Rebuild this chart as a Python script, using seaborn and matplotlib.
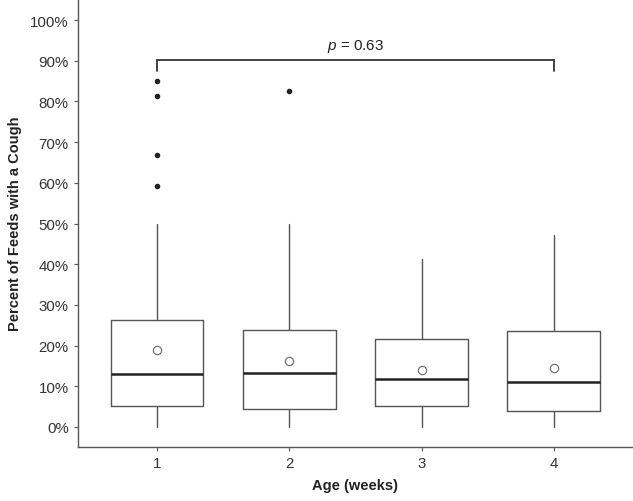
import matplotlib
matplotlib.use("Agg")
import matplotlib.pyplot as plt
import seaborn as sns
import pandas as pd

# box summary (percent of feeds with a cough)
weeks = ["1", "2", "3", "4"]
q1 = [5.2, 4.5, 5.2, 3.9]
medians = [13.0, 13.3, 11.8, 11.1]
q3 = [26.3, 23.8, 21.7, 23.5]
whisker_lo = [0.0, 0.0, 0.0, 0.0]
whisker_hi = [50.0, 50.0, 41.3, 47.2]
means = [18.9, 16.2, 13.9, 14.5]
outliers = [[85.1, 81.4, 66.8, 59.2], [82.5], [], []]
p_label = "0.63"
bracket_y = 90.1
bracket_drop = 2.7

sns.set_theme(style="ticks")
plt.rcParams['font.family'] = ['Liberation Sans', 'DejaVu Sans']
plt.rcParams['mathtext.fontset'] = 'custom'
plt.rcParams['mathtext.rm'] = 'Liberation Sans'
plt.rcParams['mathtext.it'] = 'Liberation Sans:italic'

fig = plt.figure(figsize=(6.33, 5.02), dpi=100)
ax = fig.add_axes([0.123, 0.108, 0.877, 0.892])

stats = []
for i, w in enumerate(weeks):
    stats.append(dict(label=w, q1=q1[i], med=medians[i], q3=q3[i],
                      whislo=whisker_lo[i], whishi=whisker_hi[i],
                      fliers=outliers[i], mean=means[i]))

edge = "#555555"
ax.bxp(stats, positions=range(len(weeks)), widths=0.7, showcaps=False,
       showfliers=True, showmeans=False,
       boxprops=dict(color=edge, linewidth=1.0),
       whiskerprops=dict(color=edge, linewidth=1.0),
       medianprops=dict(color="#222222", linewidth=1.8),
       flierprops=dict(marker="o", markersize=3.0, markerfacecolor="#222222",
                       markeredgecolor="#222222"))

mean_df = pd.DataFrame({"week": range(len(weeks)), "mean": means})
sns.scatterplot(data=mean_df, x="week", y="mean", ax=ax, marker="o", s=36,
                facecolor="white", edgecolor="#666666", linewidth=0.8,
                zorder=5, legend=False)

# significance bracket between week 1 and week 4
ax.plot([0, 0, len(weeks) - 1, len(weeks) - 1],
        [bracket_y - bracket_drop, bracket_y, bracket_y, bracket_y - bracket_drop],
        color="#333333", linewidth=1.3, solid_joinstyle="miter")
ax.text((len(weeks) - 1) / 2, bracket_y + 1.6, r"$p$ = " + p_label,
        ha="center", va="bottom", fontsize=11, color="#222222")

ax.set_xlim(-0.6, len(weeks) - 0.4)
ax.set_ylim(-4.9, 105.2)
ax.set_yticks(range(0, 101, 10))
ax.set_yticklabels([f"{v}%" for v in range(0, 101, 10)])
ax.set_xticks(range(len(weeks)))
ax.set_xticklabels(weeks)
ax.tick_params(axis="both", labelsize=10.8, colors="#333333", length=3,
               width=0.8, color="#555555")
ax.set_xlabel("Age (weeks)", fontsize=10.5, fontweight="bold", color="#222222",
              labelpad=6)
ax.set_ylabel("Percent of Feeds with a Cough", fontsize=10.5, fontweight="bold",
              color="#222222", labelpad=6)
sns.despine(ax=ax)
for s in ["left", "bottom"]:
    ax.spines[s].set_color("#555555")
    ax.spines[s].set_linewidth(1.0)

fig.savefig("out.png", dpi=100)
